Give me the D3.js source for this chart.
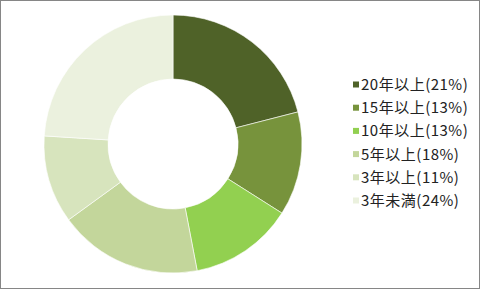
<!DOCTYPE html>
<html>
<head>
<meta charset="utf-8">
<script src="https://cdn.jsdelivr.net/npm/d3@7"></script>
<style>
  html, body { margin: 0; padding: 0; background: #fff; }
  svg { display: block; }
  .legend text { font-family: "Noto Sans CJK JP", sans-serif; font-size: 15px; letter-spacing: 0.5px; fill: #222; }
</style>
</head>
<body>
<script>
// Years-of-service breakdown (share of total, %)
const categories = ["20年以上", "15年以上", "10年以上", "5年以上", "3年以上", "3年未満"];
const shares = [21, 13, 13, 18, 11, 24];
const colors = ["#4F6228", "#77933C", "#92D050", "#C3D69B", "#D7E4BD", "#EBF1DE"];

const width = 481, height = 289;
const cx = 173, cy = 144, outerR = 129, innerR = 65;

const svg = d3.select("body").append("svg")
  .attr("width", width)
  .attr("height", height);

// chart frame
svg.append("rect")
  .attr("x", 0.5).attr("y", 0.5)
  .attr("width", 479).attr("height", 288)
  .attr("fill", "#fff")
  .attr("stroke", "#868686")
  .attr("stroke-width", 1);

const data = categories.map((c, i) => ({ name: c, value: shares[i], color: colors[i] }));

const pie = d3.pie().value(d => d.value).sort(null);
const arc = d3.arc().innerRadius(innerR).outerRadius(outerR);

svg.append("g")
  .attr("transform", `translate(${cx},${cy})`)
  .selectAll("path")
  .data(pie(data))
  .join("path")
  .attr("d", arc)
  .attr("fill", d => d.data.color)
  .attr("stroke", "#fff")
  .attr("stroke-width", 0.6);

// legend
const legendX = 353, legendY = 84.5, rowStep = 23.2, sw = 6;
const legend = svg.append("g").attr("class", "legend");
const rows = legend.selectAll("g")
  .data(data)
  .join("g")
  .attr("transform", (d, i) => `translate(${legendX},${legendY + i * rowStep})`);

rows.append("rect")
  .attr("x", 0).attr("y", -sw / 2)
  .attr("width", sw).attr("height", sw)
  .attr("fill", d => d.color);

rows.append("text")
  .attr("x", 8)
  .attr("y", 0)
  .attr("dy", "0.36em")
  .text(d => `${d.name}(${d.value}%)`);
</script>
</body>
</html>
